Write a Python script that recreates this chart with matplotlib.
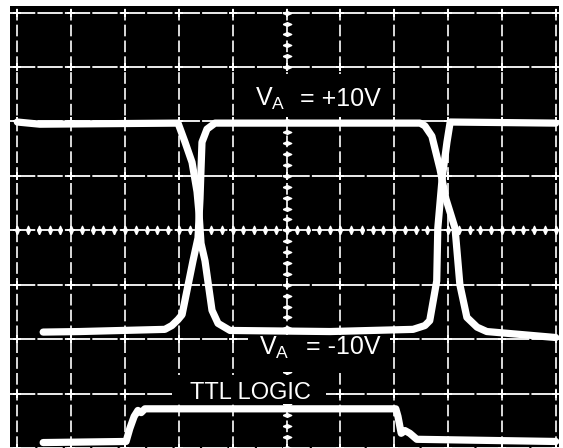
import numpy as np
import matplotlib.pyplot as plt
from matplotlib.patches import Rectangle

# scope traces, in graticule divisions (x: 0..10, y: 0..8 from bottom)
va_pos_x = [0.0, 0.42, 2.985, 3.115, 3.245, 3.338, 3.375, 3.412, 3.486, 3.616, 3.728, 3.951,
            5.81, 7.35, 7.57, 7.66, 7.79, 7.81, 7.89, 7.98, 8.04, 10.0]
va_pos_y = [5.99, 5.95, 5.97, 5.62, 5.25, 4.71, 4.31, 3.76, 3.44, 2.53, 2.29, 2.16,
            2.14, 2.18, 2.25, 2.34, 3.07, 4.04, 4.95, 5.62, 5.99, 5.97]

va_neg_x = [0.48, 1.16, 2.74, 2.87, 2.985, 3.06, 3.263, 3.356, 3.393, 3.412, 3.43, 3.523, 3.672,
            7.48, 7.57, 7.70, 7.85, 7.96, 8.13, 8.22, 8.35, 8.54, 8.72, 10.0]
va_neg_y = [2.13, 2.14, 2.18, 2.25, 2.36, 2.45, 3.44, 3.86, 4.58, 5.13, 5.62, 5.86, 5.97,
            5.97, 5.92, 5.73, 5.13, 4.58, 4.04, 3.0, 2.40, 2.22, 2.14, 2.03]

ttl_x = [0.48, 2.02, 2.09, 2.17, 2.24, 2.30, 2.37, 7.03, 7.07, 7.13, 7.20, 7.29, 7.42, 10.0]
ttl_y = [0.10, 0.12, 0.36, 0.58, 0.69, 0.65, 0.72, 0.72, 0.58, 0.27, 0.32, 0.27, 0.16, 0.12]

n_xdiv = 10
n_ydiv = 8

plt.rcParams['font.family'] = ['Liberation Sans', 'DejaVu Sans']

fig = plt.figure(figsize=(5.63, 4.48), dpi=100)
ax = fig.add_axes([10 / 563, 0, 549 / 563, 442 / 448])
ax.set_facecolor('black')
ax.set_xlim(-0.136, 10.061)
ax.set_ylim(0.066, 8.122)
for s in ax.spines.values():
    s.set_visible(False)

# graticule
ax.set_xticks(np.arange(n_xdiv + 1))
ax.set_yticks(np.arange(n_ydiv + 1))
ax.tick_params(length=0, labelbottom=False, labelleft=False)
ax.set_axisbelow(True)
ax.xaxis.grid(True, color='white', lw=1.2, linestyle=(0, (7, 2.5)))
ax.yaxis.grid(True, color='white', lw=1.3, linestyle=(0, (14, 1.2)))

gx, gy = np.meshgrid(np.arange(n_xdiv + 1), np.arange(n_ydiv + 1))
ax.scatter(gx.ravel(), gy.ravel(), marker='+', s=36, lw=1.4, color='white', zorder=0.8)

# minor marks on the centre axes
wide = [(-1, 0), (0, 0.45), (1, 0), (0, -0.45), (-1, 0)]
tall = [(0, -1), (0.45, 0), (0, 1), (-0.45, 0), (0, -1)]
minor = np.arange(0, n_xdiv + 0.01, 0.2)
ax.plot(minor, np.full_like(minor, n_ydiv / 2), ls='none', marker=tall, ms=6,
        color='white', zorder=0.8)
minor_y = np.arange(0, n_ydiv + 0.01, 0.2)
ax.plot(np.full_like(minor_y, n_xdiv / 2), minor_y, ls='none', marker=wide, ms=6,
        color='white', zorder=0.8)

# black label boxes cut the graticule
for x0, x1, y0, y1 in [(4.136, 6.96, 6.08, 6.88), (4.285, 6.92, 1.40, 2.07), (2.87, 5.73, 0.80, 1.34)]:
    ax.add_patch(Rectangle((x0, y0), x1 - x0, y1 - y0, fc='black', ec='none', zorder=1))

# traces
for tx, ty in [(va_pos_x, va_pos_y), (va_neg_x, va_neg_y), (ttl_x, ttl_y)]:
    ax.plot(tx, ty, color='white', lw=5.2, solid_joinstyle='round', solid_capstyle='round', zorder=3)

# labels
ax.text(4.415, 6.28, r'V$_{\mathregular{A}}$', color='white', fontsize=18, va='baseline', zorder=4)
ax.text(5.256, 6.28, '= +10V', color='white', fontsize=18, va='baseline', zorder=4)
ax.text(4.49, 1.72, r'V$_{\mathregular{A}}$', color='white', fontsize=18, va='baseline', zorder=4)
ax.text(5.36, 1.72, '= -10V', color='white', fontsize=18, va='baseline', zorder=4)
ax.text(4.33, 0.90, 'TTL LOGIC', color='white', fontsize=17, va='baseline', ha='center', zorder=4)

fig.savefig('out.png', dpi=100, facecolor='white')
